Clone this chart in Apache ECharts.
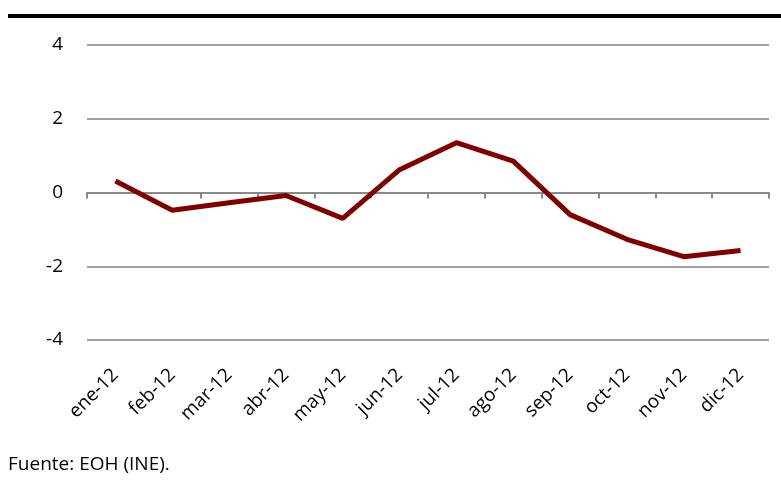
<!DOCTYPE html>
<html><head><meta charset="utf-8">
<script src="https://cdn.jsdelivr.net/npm/echarts@6/dist/echarts.min.js"></script>
<style>html,body{margin:0;padding:0;background:#fff}#c{width:781px;height:494px}</style>
</head><body><div id="c"></div>
<script>
var categories = ['ene-12','feb-12','mar-12','abr-12','may-12','jun-12','jul-12','ago-12','sep-12','oct-12','nov-12','dic-12'];
var values = [0.31, -0.48, -0.28, -0.08, -0.70, 0.62, 1.35, 0.85, -0.60, -1.27, -1.74, -1.57];
var yTicks = {min: -4, max: 4, interval: 2};
var sourceText = 'Fuente: EOH (INE).';

var chart = echarts.init(document.getElementById('c'), null, {renderer: 'canvas'});
var font = '"Open Sans", "Liberation Sans", sans-serif';
chart.setOption({
  animation: false,
  backgroundColor: '#fff',
  grid: {left: 87, right: 12, top: 45, bottom: 154, containLabel: false},
  graphic: [
    {type: 'rect', shape: {x: 8, y: 14, width: 773, height: 4}, style: {fill: '#000'}},
    {type: 'text', left: 8, top: 455, style: {text: sourceText, font: '19px ' + font, fill: '#000'}}
  ],
  xAxis: [{
    type: 'category', data: categories, position: 'bottom',
    axisLine: {show: false, onZero: false}, axisTick: {show: false},
    axisLabel: {rotate: 45, fontSize: 19, fontFamily: font, color: '#000', margin: 32, interval: 0},
    splitLine: {show: false}
  }, {
    type: 'category', data: categories, position: 'bottom',
    axisLine: {show: true, onZero: true, lineStyle: {color: '#898989', width: 2}},
    axisTick: {show: true, length: 6, lineStyle: {color: '#898989', width: 2}},
    axisLabel: {show: false}, splitLine: {show: false}
  }],
  yAxis: {
    type: 'value', min: yTicks.min, max: yTicks.max, interval: yTicks.interval,
    axisLine: {show: false}, axisTick: {show: false},
    axisLabel: {fontSize: 19, fontFamily: font, color: '#000', margin: 24},
    splitLine: {lineStyle: {color: '#a0a0a0', width: 2}}
  },
  series: [{
    type: 'line', data: values, xAxisIndex: 0, showSymbol: false, symbol: 'none',
    lineStyle: {color: '#800000', width: 5}, z: 5
  }]
});
</script></body></html>
